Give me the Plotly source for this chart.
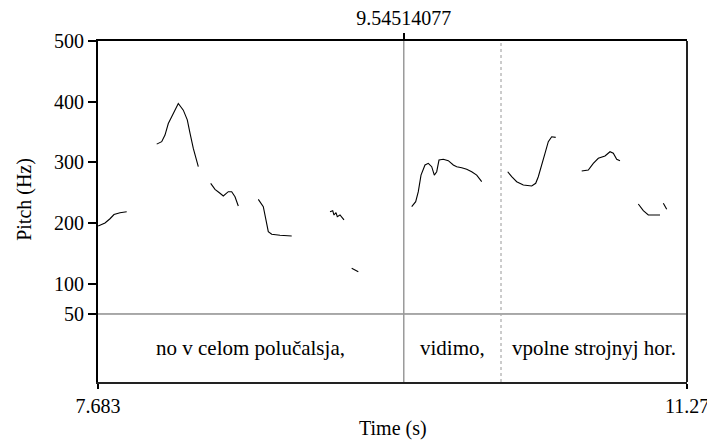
import plotly.graph_objects as go

# Pitch contour segments (time in s, pitch in Hz)
seg1_t = [7.684, 7.7256, 7.7561, 7.7804, 7.8170, 7.8578]
seg1_f = [195, 200, 207, 214, 217, 218.6]

seg2_t = [8.0405, 8.0709, 8.0910, 8.1111, 8.1318, 8.1720, 8.2025, 8.2268, 8.2433, 8.2634, 8.2938]
seg2_f = [330, 334, 345, 364, 375, 397, 386, 370, 348, 323, 293]

seg3_t = [8.3693, 8.3955, 8.4260, 8.4461, 8.4765, 8.4972, 8.5173, 8.5374]
seg3_f = [265.4, 255.5, 249, 244.5, 251.6, 251.6, 243.3, 228]

seg4_t = [8.6592, 8.6897, 8.7061, 8.7201, 8.7408, 8.7914, 8.8626]
seg4_f = [239, 226.9, 204.9, 185.7, 181.4, 179.7, 178.6]

seg5_t = [9.0959, 9.1123, 9.1202, 9.1324, 9.1403, 9.1568, 9.1811]
seg5_f = [218.6, 220.3, 213.2, 217, 210.4, 213.2, 205]

seg6_t = [9.2280, 9.2682]
seg6_f = [125.3, 119.7]

seg7_t = [9.5934, 9.6178, 9.6336, 9.6501, 9.6744, 9.6945, 9.7152, 9.7311, 9.7457, 9.7597,
          9.7859, 9.8163, 9.8468, 9.8675, 9.8979, 9.9284, 9.9588, 9.9893, 10.0197]
seg7_f = [226.9, 235.1, 251.6, 279, 295.6, 298.4, 292.8, 279, 284.5, 303.8,
          305, 302.7, 295.6, 292.8, 291.1, 288.5, 284.5, 279, 268.1]

seg8_t = [10.1781, 10.2024, 10.2329, 10.2731, 10.3242, 10.3486, 10.3644, 10.3851, 10.4052, 10.4253, 10.4460, 10.4704]
seg8_f = [284.5, 276.3, 268, 262.6, 261, 265.4, 276.3, 298.4, 314.9, 334, 342.2, 341.2]

seg9_t = [10.6287, 10.6689, 10.6994, 10.7298, 10.7706, 10.8011, 10.8212, 10.8419, 10.8620]
seg9_f = [285.7, 287.4, 298.4, 306.6, 310.4, 317.5, 314.9, 305, 302.7]

seg10_t = [10.9734, 11.0039, 11.0343, 11.0648, 11.1056]
seg10_f = [231.3, 220.3, 213.2, 212.7, 213.2]

seg11_t = [11.1257, 11.1464]
seg11_f = [232.4, 222.6]

segments = [(seg1_t, seg1_f), (seg2_t, seg2_f), (seg3_t, seg3_f), (seg4_t, seg4_f),
            (seg5_t, seg5_f), (seg6_t, seg6_f), (seg7_t, seg7_f), (seg8_t, seg8_f),
            (seg9_t, seg9_f), (seg10_t, seg10_f), (seg11_t, seg11_f)]

# Tier intervals
boundaries = [7.683, 9.54514077, 10.1373, 11.27]
labels = ["no v celom polučalsja,", "vidimo,", "vpolne strojnyj hor."]

t_min, t_max = 7.683, 11.27
cursor = 9.54514077
y_ticks = [50, 100, 200, 300, 400, 500]
y_bottom = -62.1
tier_mid = -6.0

FONT = "Liberation Serif, Times New Roman, serif"

fig = go.Figure()
for t, f in segments:
    fig.add_trace(go.Scatter(x=t, y=f, mode="lines", line=dict(color="black", width=1.1),
                             showlegend=False, hoverinfo="skip"))
# invisible trace to host the top axis
fig.add_trace(go.Scatter(x=[cursor], y=[y_bottom], xaxis="x2", mode="markers",
                         marker=dict(opacity=0), showlegend=False, hoverinfo="skip"))

shapes = []
shapes.append(dict(type="line", xref="x", yref="y", x0=t_min, x1=t_max, y0=50, y1=50,
                   line=dict(color="#555555", width=1)))
shapes.append(dict(type="line", xref="x", yref="y", x0=boundaries[1], x1=boundaries[1],
                   y0=y_bottom, y1=500, line=dict(color="#9a9a9a", width=1.5)))
shapes.append(dict(type="line", xref="x", yref="y", x0=boundaries[2], x1=boundaries[2],
                   y0=y_bottom, y1=500, line=dict(color="#aaaaaa", width=1.2, dash="dot")))
shapes.append(dict(type="line", xref="paper", yref="paper", x0=1, x1=1, y0=0, y1=1,
                   line=dict(color="#222222", width=2)))

annotations = []
for i, lab in enumerate(labels):
    annotations.append(dict(x=(boundaries[i] + boundaries[i + 1]) / 2, y=tier_mid,
                            xref="x", yref="y", text=lab, showarrow=False,
                            font=dict(family=FONT, size=21, color="black")))
annotations.append(dict(x=0.5, y=-0.135, xref="paper", yref="paper", text="Time (s)",
                        showarrow=False, yanchor="middle",
                        font=dict(family=FONT, size=20, color="black")))
annotations.append(dict(x=-0.124, y=0.537, xref="paper", yref="paper", text="Pitch (Hz)",
                        showarrow=False, textangle=-90, xanchor="center", yanchor="middle",
                        font=dict(family=FONT, size=20, color="black")))

axis_font = dict(family=FONT, size=20, color="black")
fig.update_layout(
    width=707, height=433,
    margin=dict(l=90, r=28, t=33, b=59, autoexpand=False),
    paper_bgcolor="white", plot_bgcolor="white",
    font=dict(family=FONT, color="black"),
    shapes=shapes, annotations=annotations,
    xaxis=dict(range=[t_min, t_max], tickvals=[t_min, t_max], ticktext=["7.683", "11.27"],
               ticks="outside", ticklen=5, tickwidth=1.5, tickcolor="black", automargin=False,
               showline=True, linecolor="#222222", linewidth=2, showgrid=False, zeroline=False,
               tickfont=axis_font),
    xaxis2=dict(range=[t_min, t_max], overlaying="x", side="top", tickvals=[cursor],
                ticktext=["9.54514077"], ticks="outside", ticklen=6, tickwidth=1.5,
                tickcolor="black", showline=True, linecolor="black", linewidth=1.5,
                showgrid=False, zeroline=False, automargin=False, tickfont=axis_font),
    yaxis=dict(range=[y_bottom, 500], tickvals=y_ticks, ticktext=[str(v) for v in y_ticks],
               ticks="outside", ticklen=8, tickwidth=1.5, tickcolor="black", automargin=False,
               showline=True, linecolor="black", linewidth=2, showgrid=False, zeroline=False,
               tickfont=axis_font),
)

fig.write_html("out.html")
